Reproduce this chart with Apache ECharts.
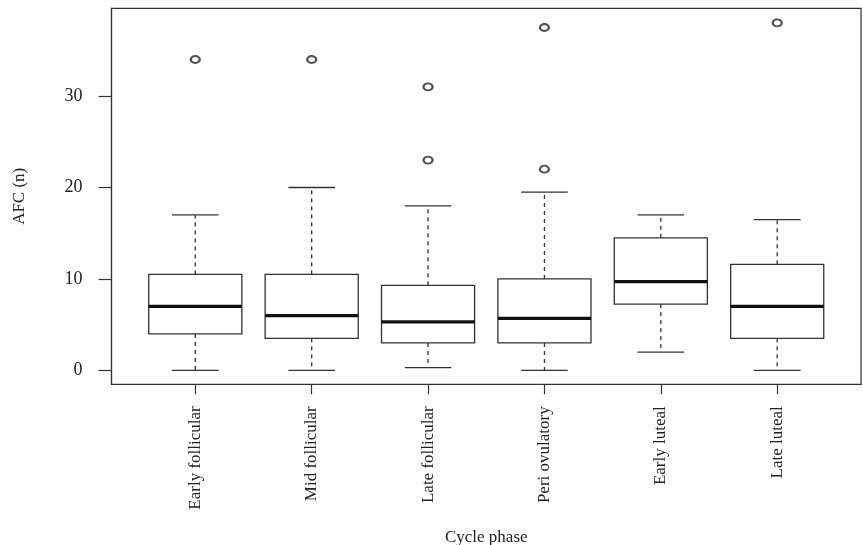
<!DOCTYPE html>
<html>
<head>
<meta charset="utf-8">
<script src="https://cdn.jsdelivr.net/npm/echarts@6/dist/echarts.min.js"></script>
<style>
  html, body { margin: 0; padding: 0; background: #fff; }
  #chart { width: 863px; height: 545px; }
</style>
</head>
<body>
<div id="chart"></div>
<script>
// Antral follicle count by menstrual cycle phase
const categories = ['Early follicular', 'Mid follicular', 'Late follicular', 'Peri ovulatory', 'Early luteal', 'Late luteal'];
const whiskerLow  = [0,    0,    0.3,  0,    2,     0];
const q1          = [4,    3.5,  3,    3,    7.25,  3.5];
const median      = [7,    6,    5.3,  5.7,  9.7,   7];
const q3          = [10.5, 10.5, 9.3,  10,   14.5,  11.6];
const whiskerHigh = [17,   20,   18,   19.5, 17,    16.5];
// outliers as [category index, value]
const outliers = [[0, 34], [1, 34], [2, 23], [2, 31], [3, 22], [3, 37.5], [5, 38]];
const yTicks = [0, 10, 20, 30];

const positions = categories.map((_, i) => i + 1);
const boxData = categories.map((_, i) => [positions[i], whiskerLow[i], q1[i], median[i], q3[i], whiskerHigh[i]]);
const outlierData = outliers.map(o => [positions[o[0]], o[1]]);

const FONT = "'Liberation Serif', 'DejaVu Serif', serif";
const INK = '#222';

function renderBox(params, api) {
  const x = api.value(0);
  const half = api.size([0.8, 0])[0] / 2;
  const capHalf = half / 2;
  const pLow = api.coord([x, api.value(1)]);
  const pQ1 = api.coord([x, api.value(2)]);
  const pMed = api.coord([x, api.value(3)]);
  const pQ3 = api.coord([x, api.value(4)]);
  const pHigh = api.coord([x, api.value(5)]);
  const cx = pQ1[0];
  const lineStyle = { stroke: '#333', lineWidth: 1.3, fill: null };
  const dashStyle = { stroke: '#333', lineWidth: 1.3, lineDash: [4, 4] };
  return {
    type: 'group',
    children: [
      { type: 'line', shape: { x1: cx, y1: pQ3[1], x2: cx, y2: pHigh[1] }, style: dashStyle },
      { type: 'line', shape: { x1: cx, y1: pQ1[1], x2: cx, y2: pLow[1] }, style: dashStyle },
      { type: 'line', shape: { x1: cx - capHalf, y1: pHigh[1], x2: cx + capHalf, y2: pHigh[1] }, style: lineStyle },
      { type: 'line', shape: { x1: cx - capHalf, y1: pLow[1], x2: cx + capHalf, y2: pLow[1] }, style: lineStyle },
      { type: 'rect', shape: { x: cx - half, y: pQ3[1], width: half * 2, height: pQ1[1] - pQ3[1] },
        style: { stroke: '#333', lineWidth: 1.3, fill: '#fff' } },
      { type: 'line', shape: { x1: cx - half, y1: pMed[1], x2: cx + half, y2: pMed[1] },
        style: { stroke: '#111', lineWidth: 3.2 } }
    ]
  };
}

const chart = echarts.init(document.getElementById('chart'), null, { renderer: 'canvas' });
chart.setOption({
  animation: false,
  backgroundColor: '#fff',
  grid: {
    left: 111.5, top: 8.3, right: 2, bottom: 160.7,
    containLabel: false,
    outerBoundsMode: 'none',
    show: true, borderColor: '#333', borderWidth: 1.2, backgroundColor: 'transparent'
  },
  xAxis: {
    type: 'value',
    min: 0.28, max: 6.72,
    name: 'Cycle phase',
    nameLocation: 'middle',
    nameGap: 145,
    nameTextStyle: { fontFamily: FONT, fontSize: 17, color: INK },
    axisLine: { show: true, onZero: false, lineStyle: { color: '#333', width: 1.2 } },
    axisTick: { show: true, customValues: positions, length: 10, lineStyle: { color: '#333', width: 1.2 } },
    axisLabel: {
      customValues: positions,
      rotate: 90, margin: 22,
      fontFamily: FONT, fontSize: 17, color: INK,
      formatter: v => categories[Math.round(v) - 1] || ''
    },
    splitLine: { show: false }
  },
  yAxis: {
    type: 'value',
    min: -1.52, max: 39.6,
    name: 'AFC (n)',
    nameLocation: 'middle',
    nameGap: 83,
    nameRotate: 90,
    nameTextStyle: { fontFamily: FONT, fontSize: 17, color: INK },
    axisLine: { show: true, onZero: false, lineStyle: { color: '#333', width: 1.2 } },
    axisTick: { show: true, customValues: yTicks, length: 13, lineStyle: { color: '#333', width: 1.2 } },
    axisLabel: {
      customValues: yTicks,
      margin: 29,
      fontFamily: FONT, fontSize: 18, color: INK
    },
    splitLine: { show: false }
  },
  series: [
    {
      type: 'custom',
      renderItem: renderBox,
      data: boxData,
      encode: { x: 0, y: [1, 2, 3, 4, 5] },
      z: 2
    },
    {
      type: 'scatter',
      data: outlierData,
      symbol: 'emptyCircle',
      symbolSize: [9, 7],
      itemStyle: { color: '#222', borderColor: '#222', borderWidth: 1.3 },
      z: 3
    }
  ]
});
</script>
</body>
</html>
